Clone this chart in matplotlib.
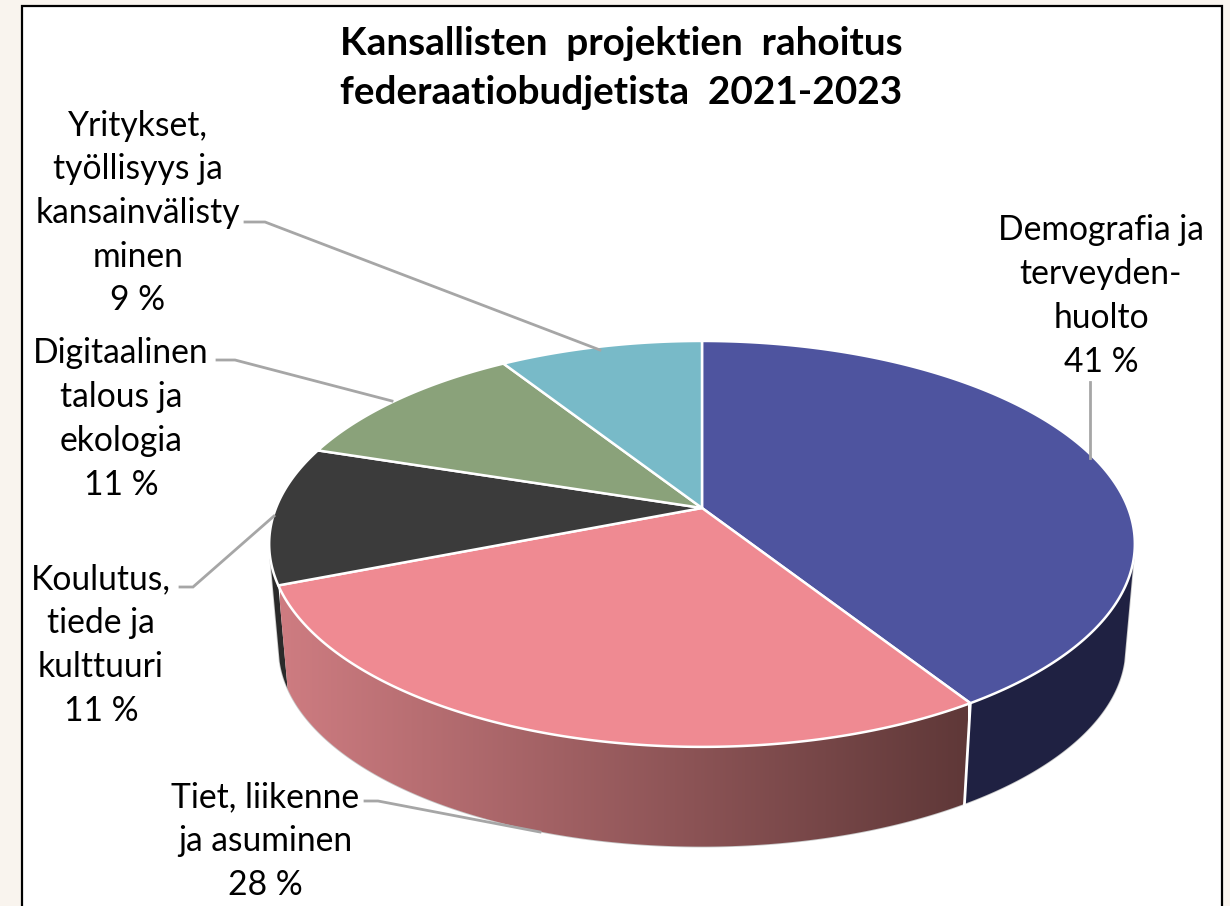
import numpy as np
import matplotlib
matplotlib.use("Agg")
import matplotlib.pyplot as plt
from matplotlib.patches import Polygon, Rectangle
from matplotlib.colors import LinearSegmentedColormap

plt.rcParams['font.family'] = ['Lato', 'DejaVu Sans']

# data, clockwise from 12 o'clock
categories = ["Demografia ja\nterveyden-\nhuolto",
              "Tiet, liikenne\nja asuminen",
              "Koulutus,\ntiede ja\nkulttuuri",
              "Digitaalinen\ntalous ja\nekologia",
              "Yritykset,\ntyöllisyys ja\nkansainvälisty\nminen"]
values = [41, 28, 11, 11, 9]
top_colors = ["#4E549F", "#EF8A92", "#3B3B3B", "#8AA27A", "#78BAC8"]
wall_colors = ["#1F2142", None, "#2A2A2A", None, None]
title = "Kansallisten  projektien  rahoitus\nfederaatiobudjetista  2021-2023"

# pixel layout of the tilted disc
CX, CY = 702, 508
A, B, K = 426, 196.6, 0.177
DEPTH_Y, DEPTH_S = 613, 0.978


def disc(t, bottom=False):
    # t in radians clockwise from the back of the disc, perspective projection
    u, v = np.sin(t), np.cos(t)
    w = 1 + K * v
    x, y = A * u / w, B * (-v) / w
    if bottom:
        return CX + DEPTH_S * x, DEPTH_Y + DEPTH_S * y
    return CX + x, CY + y


def wall_poly(t0, t1):
    t = np.linspace(t0, t1, 200)
    xa, ya = disc(t)
    xb, yb = disc(t[::-1], bottom=True)
    return np.column_stack([np.r_[xa, xb], np.r_[ya, yb]])


fig = plt.figure(figsize=(12.3, 9.06), dpi=100, facecolor="#F9F4EE")
ax = fig.add_axes([0, 0, 1, 1])
ax.axis("off")

ax.add_patch(Rectangle((22, 6), 1200, 940, facecolor="white", edgecolor="black", lw=1.6))

edges = np.r_[0, np.cumsum(values)] / sum(values) * 2 * np.pi

# side walls, only the front part shows, ends where the silhouette is tangent
t_right = np.radians(104)
t_left = np.radians(256)

# outer silhouette of the whole wall first, it gives the thin pale rim
rim = Polygon(wall_poly(t_right, t_left), closed=True,
              facecolor="white", edgecolor="#C8C8C8", lw=1.2, zorder=2)
ax.add_patch(rim)

ax.add_patch(Polygon(wall_poly(t_right, edges[1]), closed=True,
                     facecolor=wall_colors[0], edgecolor="none", zorder=3))
ax.add_patch(Polygon(wall_poly(edges[2], t_left), closed=True,
                     facecolor=wall_colors[2], edgecolor="none", zorder=3))

pink = Polygon(wall_poly(edges[1], edges[2]), closed=True, facecolor="none",
               edgecolor="none", zorder=4)
ax.add_patch(pink)
wall_cmap = LinearSegmentedColormap.from_list("wall", ["#CE7C81", "#5F3838"])
grad = ax.imshow(np.linspace(0, 1, 256).reshape(1, -1), cmap=wall_cmap, aspect="auto",
                 extent=(280, 968, 860, 580), zorder=4)
grad.set_clip_path(pink)

# white seam between the two visible walls
xs, ys = disc(np.array([edges[1]]))
xe, ye = disc(np.array([edges[1]]), bottom=True)
ax.plot([xs[0], xe[0]], [ys[0], ye[0]], color="white", lw=2, zorder=5)

# top face
for i, c in enumerate(top_colors):
    t = np.linspace(edges[i], edges[i + 1], 200)
    x, y = disc(t)
    pts = np.column_stack([np.r_[CX, x], np.r_[CY, y]])
    ax.add_patch(Polygon(pts, closed=True, facecolor=c, edgecolor="white", lw=1.8,
                         joinstyle="round", zorder=6))

# leader lines
leaders_x = [[1090, 1090], [365, 378, 540], [180, 193, 274], [217, 235, 392], [245, 265, 600]]
leaders_y = [[382, 458], [801, 801, 832], [587, 587, 516], [360, 360, 401], [222, 222, 350]]
for lx, ly in zip(leaders_x, leaders_y):
    ax.plot(lx, ly, color="#A6A6A6", lw=2.0, zorder=7, solid_joinstyle="miter")

# labels
label_x = [1101, 265, 101, 121, 138]
label_y = [296, 841, 645, 419, 213]
for name, v, lx, ly in zip(categories, values, label_x, label_y):
    ax.text(lx, ly, f"{name}\n{v} %", ha="center", va="center", fontsize=24.2,
            linespacing=1.45, color="black", zorder=8)

ax.text(621, 68, title, ha="center", va="center", fontsize=27.9, fontweight="bold",
        linespacing=1.48, color="black", zorder=8)

ax.set_xlim(0, 1230)
ax.set_ylim(906, 0)
fig.savefig("out.png", dpi=100, facecolor=fig.get_facecolor())
